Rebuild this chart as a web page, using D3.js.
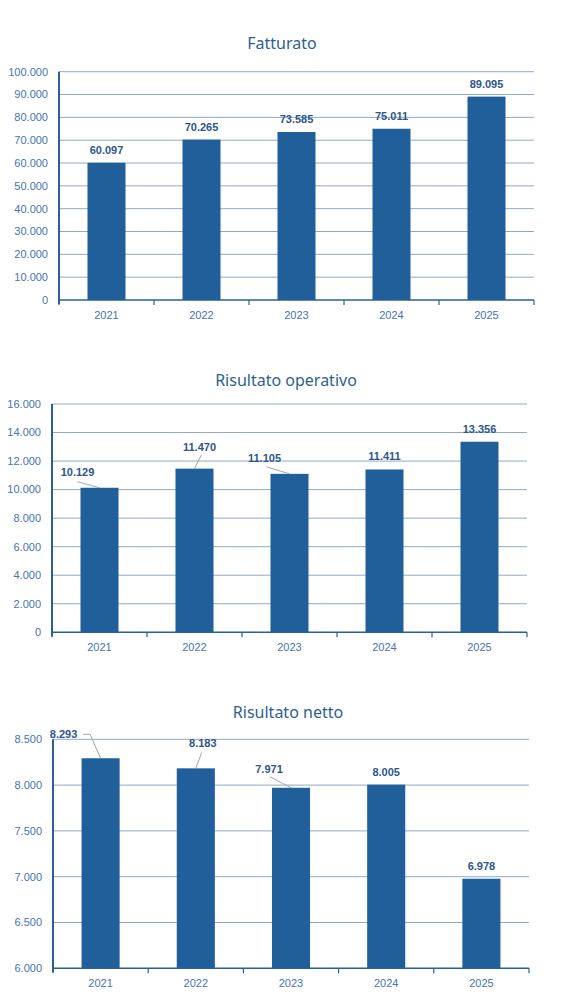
<!DOCTYPE html><head><meta charset = "utf-8">
<title>bilancio</title>
<style type = "text/css">
body { margin: 0; background: white; }
svg { display: block; }
text.title { font-family: "Noto Sans", sans-serif; font-size: 16px; fill: #2d5f93; }
text.tick { font-family: "Liberation Sans", Arial, sans-serif; font-size: 11px; fill: #4673b5; }
text.value { font-family: "Liberation Sans", Arial, sans-serif; font-size: 11px; font-weight: bold; fill: #2c5690; }
</style>
<script type="text/javascript" src="https://cdn.jsdelivr.net/npm/d3@7"></script>
</head><body>
<svg id="chart" width="579" height="1006"></svg>
<script type="text/javascript">

// data
var years = ["2021", "2022", "2023", "2024", "2025"];

var fatturato = [60097, 70265, 73585, 75011, 89095];
var fatturatoTicks = [0, 10000, 20000, 30000, 40000, 50000, 60000, 70000, 80000, 90000, 100000];

var risultatoOperativo = [10129, 11470, 11105, 11411, 13356];
var operativoTicks = [0, 2000, 4000, 6000, 8000, 10000, 12000, 14000, 16000];

var risultatoNetto = [8293, 8183, 7971, 8005, 6978];
var nettoTicks = [6000, 6500, 7000, 7500, 8000, 8500];

// italian number format: 60.097
var fmt = d3.formatLocale({decimal: ",", thousands: ".", grouping: [3], currency: ["€", ""]}).format(",.0f");

var svg = d3.select("#chart");

// layout of each chart (pixel boxes), label offsets for the moved labels
var charts = [
	{ title: "Fatturato", values: fatturato, ticks: fatturatoTicks,
	  left: 59, right: 534, top: 71.7, bottom: 300, titleX: 282, titleY: 49,
	  labels: [] },
	{ title: "Risultato operativo", values: risultatoOperativo, ticks: operativoTicks,
	  left: 52, right: 527, top: 404, bottom: 632.3, titleX: 286, titleY: 386,
	  labels: [
		{ dx: -22, dy: -12, leader: [[0, 6]] },
		{ dx: 5, dy: -18, leader: [[2, 4]] },
		{ dx: -25, dy: -12, leader: [[2, 5]] },
		null, null ] },
	{ title: "Risultato netto", values: risultatoNetto, ticks: nettoTicks,
	  left: 53, right: 529, top: 739.3, bottom: 968.3, titleX: 288, titleY: 718,
	  labels: [
		{ dx: -37, dy: -20, leader: [[19.5, -4], [26.5, -4]] },
		{ dx: 7, dy: -21, leader: [[-1, 5]] },
		{ dx: -22, dy: -15, leader: [[1, 4]] },
		null, null ] }
];

function drawChart(c) {
	var g = svg.append("g");

	var x = d3.scaleBand().domain(years).range([c.left, c.right]).paddingInner(0.6).paddingOuter(0.3);
	var band = d3.scaleBand().domain(years).range([c.left, c.right]);
	var y = d3.scaleLinear().domain([d3.min(c.ticks), d3.max(c.ticks)]).range([c.bottom, c.top]);

	g.append("text").attr("class", "title")
		.attr("x", c.titleX).attr("y", c.titleY)
		.attr("text-anchor", "middle")
		.text(c.title);

	// gridlines
	g.selectAll("line.grid")
		.data(c.ticks.slice(1))
		.join("line").attr("class", "grid")
		.attr("x1", c.left).attr("x2", c.right)
		.attr("y1", d => y(d)).attr("y2", d => y(d))
		.attr("stroke", "#8eaac9").attr("stroke-width", 1);

	// y tick labels
	g.selectAll("text.ytick")
		.data(c.ticks)
		.join("text").attr("class", "tick ytick")
		.attr("x", c.left - 11)
		.attr("y", d => y(d))
		.attr("dy", "0.35em")
		.attr("text-anchor", "end")
		.text(d => fmt(d));

	// bars
	g.selectAll("rect.bar")
		.data(c.values)
		.join("rect").attr("class", "bar")
		.attr("x", (d, i) => x(years[i]))
		.attr("width", x.bandwidth())
		.attr("y", d => y(d))
		.attr("height", d => c.bottom - y(d))
		.attr("fill", "#215f9a");

	// x axis
	g.append("line")
		.attr("x1", c.left).attr("x2", c.right)
		.attr("y1", c.bottom).attr("y2", c.bottom)
		.attr("stroke", "#2a5f9a").attr("stroke-width", 1.5);
	var edges = years.map(d => band(d)).concat([c.right]);
	g.selectAll("line.xtickmark")
		.data(edges)
		.join("line").attr("class", "xtickmark")
		.attr("x1", d => d).attr("x2", d => d)
		.attr("y1", c.bottom).attr("y2", c.bottom + 5)
		.attr("stroke", "#2a5f9a").attr("stroke-width", 1.2);
	g.selectAll("text.xtick")
		.data(years)
		.join("text").attr("class", "tick xtick")
		.attr("x", d => band(d) + band.bandwidth() / 2)
		.attr("y", c.bottom + 19)
		.attr("text-anchor", "middle")
		.text(d => d);

	// y axis
	g.append("line")
		.attr("x1", c.left).attr("x2", c.left)
		.attr("y1", c.top).attr("y2", c.bottom + 4)
		.attr("stroke", "#2a5f9a").attr("stroke-width", 2);

	// value labels
	c.values.forEach(function(v, i) {
		var cx = x(years[i]) + x.bandwidth() / 2;
		var top = y(v);
		var o = c.labels[i];
		var lx = cx, ly = top - 9;
		if (o) {
			lx = cx + o.dx;
			ly = top + o.dy;
			var pts = o.leader.map(p => [lx + p[0], ly + p[1]]);
			pts.push([cx, top]);
			g.append("path")
				.attr("d", d3.line()(pts))
				.attr("fill", "none")
				.attr("stroke", "#a6a6a6").attr("stroke-width", 1);
		}
		g.append("text").attr("class", "value")
			.attr("x", lx).attr("y", ly)
			.attr("text-anchor", "middle")
			.text(fmt(v));
	});
}

charts.forEach(drawChart);

</script>
</body></html>
